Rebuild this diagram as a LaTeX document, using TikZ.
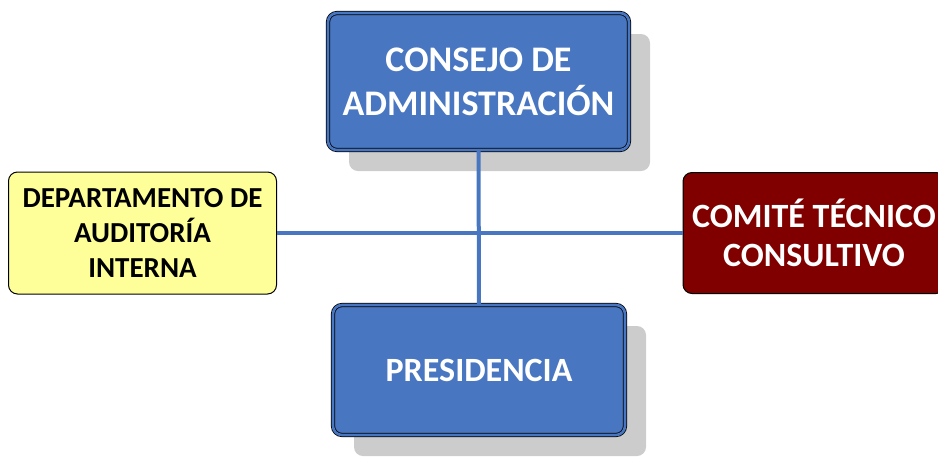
\documentclass[tikz,border=0pt]{standalone}
\usepackage{fontspec}
\setmainfont{Carlito}
\usetikzlibrary{shadows}
\definecolor{orgblue}{RGB}{72,118,192}
\definecolor{orgred}{RGB}{128,0,0}
\definecolor{orgyellow}{RGB}{255,255,153}
\definecolor{orgshadow}{RGB}{204,204,204}
\begin{document}
\begin{tikzpicture}[x=1pt,y=-1pt,
  mainbox/.style={draw=black,double=orgblue,double distance=2.6pt,line width=0.8pt,
    fill=orgblue,rounded corners=9pt,text=white,align=center,
    drop shadow={shadow xshift=21pt,shadow yshift=-21pt,fill=orgshadow,opacity=1}},
  sidebox/.style={draw=black,line width=1pt,rounded corners=9pt,align=center},
  link/.style={draw=orgblue,line width=4pt}]
\clip (0,0) rectangle (938,456);

% Governing bodies
\node[mainbox,minimum width=301pt,minimum height=137pt,
  font=\fontsize{36}{44}\selectfont\bfseries] (consejo) at (478.5,81.5)
  {CONSEJO DE\\ADMINISTRACIÓN};
\node[mainbox,minimum width=292pt,minimum height=130pt,
  font=\fontsize{34}{41}\selectfont\bfseries] (presidencia) at (479,370)
  {PRESIDENCIA};

% Side units
\node[sidebox,fill=orgyellow,minimum width=268pt,minimum height=122pt,
  font=\fontsize{29}{35}\selectfont\bfseries] (auditoria) at (142.5,233)
  {DEPARTAMENTO DE\\AUDITORÍA\\INTERNA};
\node[sidebox,fill=orgred,text=white,minimum width=262pt,minimum height=121pt,
  font=\fontsize{34}{39}\selectfont\bfseries] (comite) at (814,233)
  {COMITÉ TÉCNICO\\CONSULTIVO};

% Connection lines
\draw[link] (consejo.south) -- (presidencia.north);
\draw[link] (auditoria.east) -- (comite.west);
\end{tikzpicture}
\end{document}
